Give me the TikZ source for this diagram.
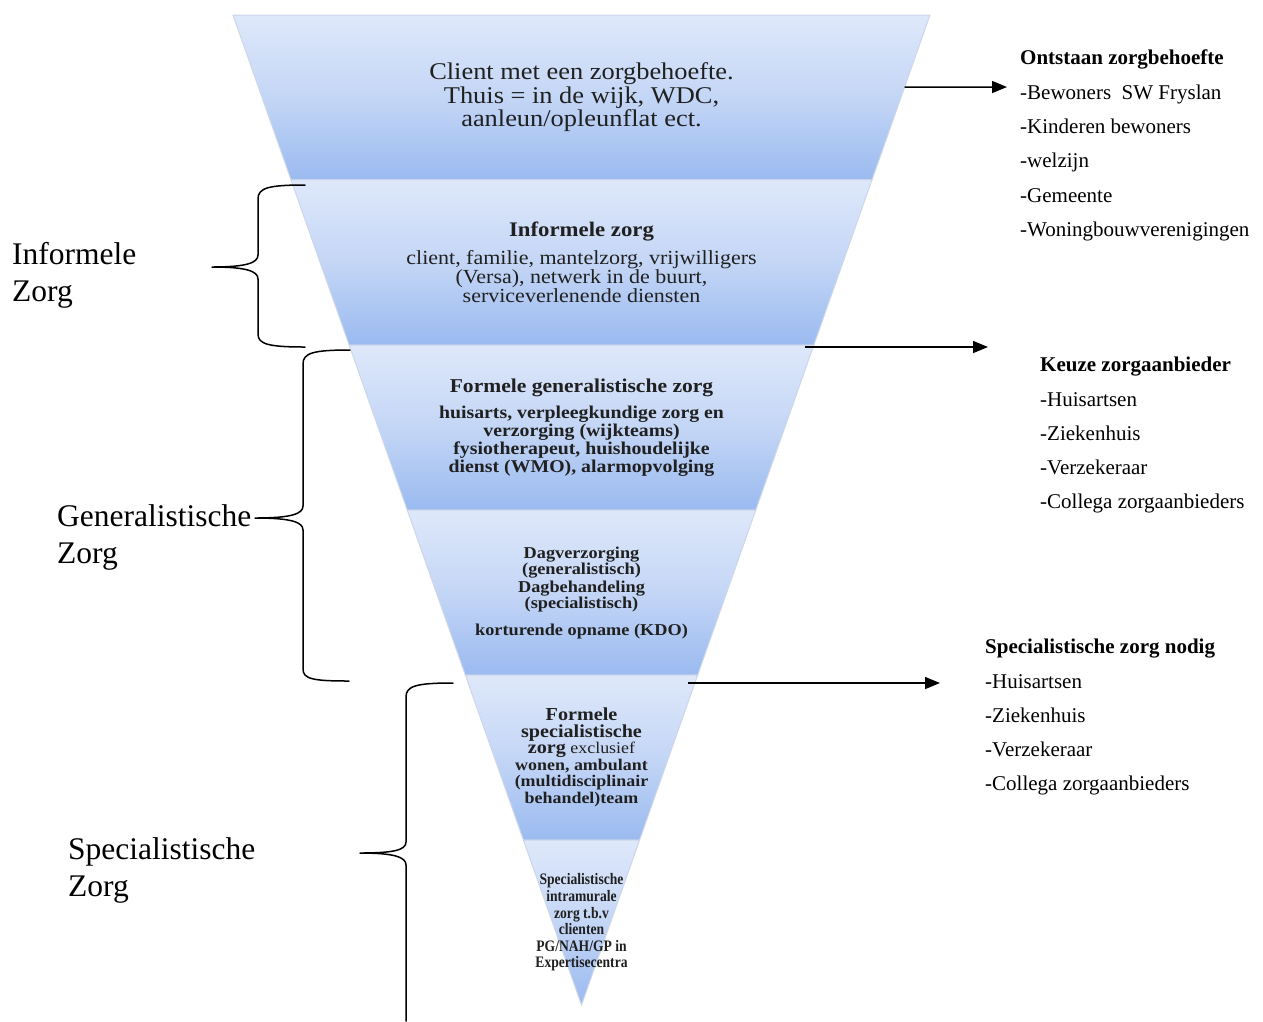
\documentclass[tikz,border=0pt]{standalone}
\usepackage{fontspec}
\setmainfont{Liberation Serif}
\newfontfamily\camfont{Liberation Serif}[FakeStretch=1.1]
\newfontfamily\camcond{Liberation Serif}[FakeStretch=0.85]
\usetikzlibrary{calc,arrows.meta}
\definecolor{bandtop}{RGB}{222,232,250}
\definecolor{bandmid}{RGB}{196,214,246}
\definecolor{bandbot}{RGB}{154,186,240}
\definecolor{bandline}{RGB}{205,215,232}
\definecolor{ptext}{RGB}{32,32,32}
\tikzset{
  bandshape/.style={draw=bandline, line width=1pt, top color=bandtop, bottom color=bandbot, middle color=bandmid},
  bandtext/.style={align=center, inner sep=0pt, text=ptext},
  sidetext/.style={align=left, inner sep=0pt, anchor=north west, font=\fontsize{21}{34.3}\selectfont},
  grouplabel/.style={align=left, inner sep=0pt, anchor=north west, font=\fontsize{31.5}{37.5}\selectfont},
  bracepath/.style={line width=1.5pt, line cap=round, line join=round},
  feedarrow/.style={line width=1.5pt, -{Triangle[length=15pt,width=12pt]}},
}
\begin{document}
\begin{tikzpicture}[x=1pt,y=-1pt]
\useasboundingbox (0,0) rectangle (1263,1021);
\fill[white] (0,0) rectangle (1263,1021);
\coordinate (TL) at (233,15);
\coordinate (TR) at (930,15);
\coordinate (TM) at (581.5,15);
\coordinate (AP) at (581.5,1005);
\foreach \k in {1,...,6}{
  \pgfmathsetmacro{\ta}{(\k-1)/6}
  \pgfmathsetmacro{\tb}{\k/6}
  \shadedraw[bandshape] ($(TL)!\ta!(AP)$) -- ($(TR)!\ta!(AP)$) -- ($(TR)!\tb!(AP)$) -- ($(TL)!\tb!(AP)$) -- cycle;
}
% band texts
\node[bandtext, font={\camfont\fontsize{24}{23.5}\selectfont}] (b1) at ($(TM)!1/12!(AP)$)
  {Client met een zorgbehoefte.\\Thuis = in de wijk, WDC,\\aanleun/opleunflat ect.};
\node[bandtext, font={\camfont\fontsize{20}{19}\selectfont}] (b2) at ($(TM)!3/12!(AP)$)
  {{\bfseries\fontsize{20.7}{19}\selectfont Informele zorg}\\[9pt]client, familie, mantelzorg, vrijwilligers\\(Versa), netwerk in de buurt,\\serviceverlenende diensten};
\node[bandtext, font={\camfont\bfseries\fontsize{18}{18}\selectfont}] (b3) at ($(TM)!5/12!(AP)$)
  {{\fontsize{19.6}{18}\selectfont Formele generalistische zorg}\\[8pt]huisarts, verpleegkundige zorg en\\verzorging (wijkteams)\\fysiotherapeut, huishoudelijke\\dienst (WMO), alarmopvolging};
\node[bandtext, font={\camfont\bfseries\fontsize{16.6}{17}\selectfont}] (b4) at ($(TM)!7/12!(AP)$)
  {Dagverzorging\\(generalistisch)\\Dagbehandeling\\(specialistisch)\\[9pt]korturende opname (KDO)};
\node[bandtext, font={\camfont\bfseries\fontsize{16.3}{16.5}\selectfont}] (b5) at ($(TM)!9/12!(AP)$)
  {{\fontsize{18.3}{16.5}\selectfont Formele}\\{\fontsize{18.3}{16.5}\selectfont specialistische}\\{\fontsize{18.3}{16.5}\selectfont zorg} {\mdseries exclusief}\\wonen, ambulant\\(multidisciplinair\\behandel)team};
\node[bandtext, font={\camcond\bfseries\fontsize{16}{16.6}\selectfont}] (b6) at ($(TM)!11/12!(AP)$)
  {Specialistische\\intramurale\\zorg t.b.v\\clienten\\PG/NAH/GP in\\Expertisecentra};
% right side texts
\node[sidetext] (s1) at (1020,50) {\textbf{Ontstaan zorgbehoefte}\\-Bewoners\ \ SW Fryslan\\-Kinderen bewoners\\-welzijn\\-Gemeente\\-Woningbouwverenigingen};
\node[sidetext] (s2) at (1040,357) {\textbf{Keuze zorgaanbieder}\\-Huisartsen\\-Ziekenhuis\\-Verzekeraar\\-Collega zorgaanbieders};
\node[sidetext] (s3) at (985,639) {\textbf{Specialistische zorg nodig}\\-Huisartsen\\-Ziekenhuis\\-Verzekeraar\\-Collega zorgaanbieders};
% arrows
\coordinate (p1) at ($(TR)!72/990!(AP)$);
\coordinate (q1) at (1007,87);
\coordinate (p2) at (805,347);
\coordinate (q2) at (988,347);
\coordinate (p3) at (688,683);
\coordinate (q3) at (940,683);
\draw[feedarrow] (p1) -- (q1);
\draw[feedarrow] (p2) -- (q2);
\draw[feedarrow] (p3) -- (q3);
% left labels
\node[grouplabel] (l1) at (12,242) {Informele\\Zorg};
\node[grouplabel] (l2) at (57,504) {Generalistische\\Zorg};
\node[grouplabel] (l3) at (68,837) {Specialistische\\Zorg};
% braces
\draw[bracepath] (305,185) .. controls (268,185) and (258,188) .. (258,199) -- (258,255)
  .. controls (258,263) and (246,267) .. (212,267) .. controls (246,267) and (258,271) .. (258,279)
  -- (258,334) .. controls (258,344) and (268,347) .. (305,347);
\draw[bracepath] (350,350) .. controls (313,350) and (303,353) .. (303,364) -- (303,506)
  .. controls (303,514) and (291,518) .. (255,518) .. controls (291,518) and (303,522) .. (303,530)
  -- (303,669) .. controls (303,679) and (313,681) .. (349,681);
\draw[bracepath] (453,683) .. controls (416,683) and (406,686) .. (406,697) -- (406,842)
  .. controls (406,850) and (394,853) .. (360,853) .. controls (394,853) and (406,857) .. (406,865)
  -- (406,1021);
\end{tikzpicture}
\end{document}
